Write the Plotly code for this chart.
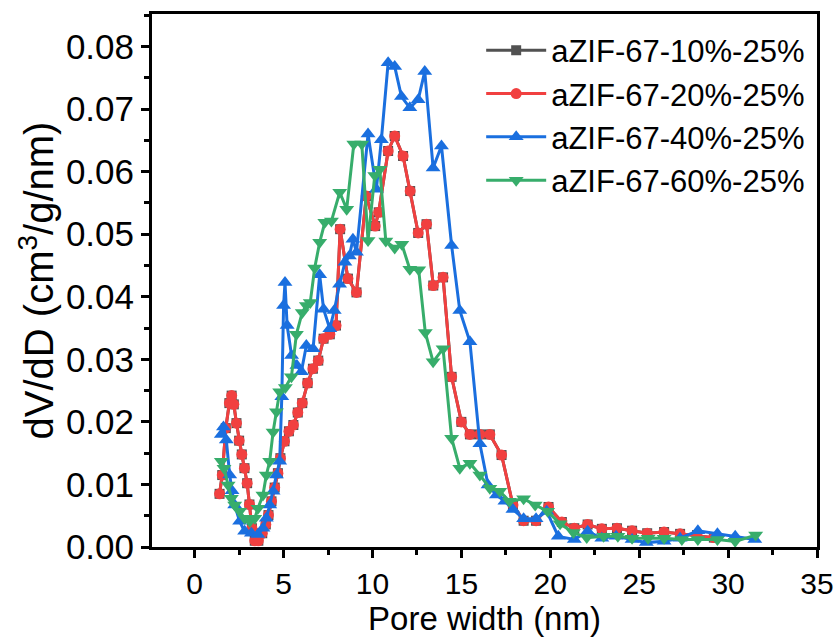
import plotly.graph_objects as go

# ---------------- data ----------------
x_20 = [1.40, 1.55, 1.75, 1.95, 2.08, 2.20, 2.35, 2.50, 2.65, 2.80, 2.95, 3.08, 3.22, 3.38,
        3.58, 3.80, 4.00, 4.15, 4.32, 4.50, 4.68, 4.82, 5.05, 5.30, 5.55, 5.80, 6.05, 6.35,
        6.65, 6.95, 7.25, 7.60, 7.95, 8.18, 8.62, 9.10, 9.65, 10.15, 10.35, 10.88, 11.25,
        11.72, 12.12, 12.57, 13.04, 13.42, 13.97, 14.45, 15.00, 15.48, 16.04, 16.60, 17.26,
        17.90, 18.50, 19.20, 19.90, 20.65, 21.35, 22.10, 22.90, 23.75, 24.60, 25.45, 26.40,
        27.30, 28.25, 29.20]
y_20 = [0.0085, 0.0115, 0.0190, 0.0230, 0.0242, 0.0228, 0.0198, 0.0170, 0.0148, 0.0126,
        0.0102, 0.0068, 0.0030, 0.0010, 0.0010, 0.0022, 0.0036, 0.0051, 0.0073, 0.0095,
        0.0118, 0.0142, 0.0169, 0.0185, 0.0195, 0.0215, 0.0230, 0.0262, 0.0285, 0.0298,
        0.0333, 0.0340, 0.0354, 0.0508, 0.0429, 0.0407, 0.0561, 0.0513, 0.0535, 0.0633,
        0.0657, 0.0625, 0.0569, 0.0502, 0.0516, 0.0418, 0.0431, 0.0272, 0.0200, 0.0180,
        0.0180, 0.0180, 0.0147, 0.0067, 0.0042, 0.0042, 0.0064, 0.0040, 0.0030, 0.0036,
        0.0029, 0.0030, 0.0026, 0.0022, 0.0024, 0.0021, 0.0019, 0.0015]

# the 10% curve lies directly beneath the 20% curve
x_10 = [1.40, 1.55, 1.75, 1.95, 2.08, 2.20, 2.35, 2.50, 2.65, 2.80, 2.95, 3.08, 3.22, 3.38,
        3.58, 3.80, 4.00, 4.15, 4.32, 4.50, 4.68, 4.82, 5.05, 5.30, 5.55, 5.80, 6.05, 6.35,
        6.65, 6.95, 7.25, 7.60, 7.95, 8.18, 8.62, 9.10, 9.65, 10.15, 10.35, 10.88, 11.25,
        11.72, 12.12, 12.57, 13.04, 13.42, 13.97, 14.45, 15.00, 15.48, 16.04, 16.60, 17.26,
        17.90, 18.50, 19.20, 19.90, 20.65, 21.35, 22.10, 22.90, 23.75, 24.60, 25.45, 26.40,
        27.30, 28.25, 29.20]
y_10 = [0.0085, 0.0115, 0.0190, 0.0230, 0.0242, 0.0228, 0.0198, 0.0170, 0.0148, 0.0126,
        0.0102, 0.0068, 0.0030, 0.0010, 0.0010, 0.0022, 0.0036, 0.0051, 0.0073, 0.0095,
        0.0118, 0.0142, 0.0169, 0.0185, 0.0195, 0.0215, 0.0230, 0.0262, 0.0285, 0.0298,
        0.0333, 0.0340, 0.0354, 0.0508, 0.0429, 0.0407, 0.0561, 0.0513, 0.0535, 0.0633,
        0.0657, 0.0625, 0.0569, 0.0502, 0.0516, 0.0418, 0.0431, 0.0272, 0.0200, 0.0180,
        0.0180, 0.0180, 0.0147, 0.0067, 0.0042, 0.0042, 0.0064, 0.0040, 0.0030, 0.0036,
        0.0029, 0.0030, 0.0026, 0.0022, 0.0024, 0.0021, 0.0019, 0.0015]

x_40 = [1.50, 1.62, 1.78, 1.97, 2.10, 2.25, 2.53, 2.81, 3.19, 3.56, 3.84, 4.03, 4.22, 4.41,
        4.60, 4.78, 4.90, 5.00, 5.08, 5.20, 5.45, 5.75, 6.00, 6.28, 6.66, 7.03, 7.25, 7.60,
        7.85, 8.15, 8.45, 8.70, 8.90, 9.10, 9.75, 10.22, 10.50, 10.88, 11.25, 11.63, 12.10,
        12.57, 12.94, 13.41, 13.88, 14.45, 14.91, 15.48, 16.04, 16.50, 16.97, 17.45, 17.90,
        18.50, 19.20, 19.80, 20.45, 21.35, 22.10, 22.90, 23.70, 24.60, 25.40, 26.40, 27.30,
        28.30, 29.40, 30.40, 31.50]
y_40 = [0.0180, 0.0192, 0.0171, 0.0115, 0.0090, 0.0067, 0.0041, 0.0025, 0.0022, 0.0020,
        0.0030, 0.0046, 0.0067, 0.0089, 0.0115, 0.0137, 0.0240, 0.0386, 0.0423, 0.0354,
        0.0306, 0.0290, 0.0280, 0.0322, 0.0317, 0.0435, 0.0380, 0.0349, 0.0378, 0.0420,
        0.0455, 0.0465, 0.0492, 0.0471, 0.0660, 0.0572, 0.0651, 0.0774, 0.0768, 0.0720,
        0.0702, 0.0715, 0.0760, 0.0606, 0.0641, 0.0482, 0.0378, 0.0328, 0.0165, 0.0099,
        0.0083, 0.0073, 0.0060, 0.0045, 0.0045, 0.0057, 0.0017, 0.0012, 0.0025, 0.0014,
        0.0017, 0.0012, 0.0007, 0.0009, 0.0014, 0.0026, 0.0021, 0.0017, 0.0012]

x_60 = [1.50, 1.65, 1.88, 2.06, 2.25, 2.53, 2.81, 3.10, 3.38, 3.56, 3.84, 4.03, 4.22, 4.41,
        4.60, 4.78, 5.10, 5.44, 5.72, 6.05, 6.28, 6.50, 6.75, 7.03, 7.32, 7.69, 8.16, 8.55,
        8.95, 9.40, 9.75, 10.13, 10.41, 10.75, 11.25, 11.65, 12.10, 12.60, 12.97, 13.41,
        13.97, 14.45, 14.91, 15.48, 16.04, 16.60, 17.16, 17.70, 18.50, 19.15, 19.85, 20.55,
        21.30, 22.05, 23.00, 23.80, 24.60, 25.50, 26.40, 27.40, 28.30, 29.40, 30.40, 31.55]
y_60 = [0.0137, 0.0126, 0.0099, 0.0078, 0.0067, 0.0057, 0.0046, 0.0041, 0.0046, 0.0062,
        0.0083, 0.0115, 0.0137, 0.0184, 0.0216, 0.0248, 0.0255, 0.0272, 0.0340, 0.0375,
        0.0386, 0.0391, 0.0446, 0.0487, 0.0519, 0.0521, 0.0567, 0.0540, 0.0644, 0.0644,
        0.0490, 0.0594, 0.0604, 0.0489, 0.0478, 0.0484, 0.0444, 0.0443, 0.0343, 0.0296,
        0.0317, 0.0174, 0.0126, 0.0134, 0.0115, 0.0094, 0.0089, 0.0073, 0.0077, 0.0067,
        0.0057, 0.0037, 0.0023, 0.0015, 0.0017, 0.0017, 0.0014, 0.0014, 0.0014, 0.0012,
        0.0012, 0.0012, 0.0009, 0.0019]

series_names = ["aZIF-67-10%-25%", "aZIF-67-20%-25%", "aZIF-67-40%-25%", "aZIF-67-60%-25%"]
series_colors = ["#515151", "#F14040", "#1A6FDF", "#37AD6B"]
series_symbols = ["square", "circle", "triangle-up", "triangle-down"]
series_sizes = [10, 11, 13, 13]

FONT = "Liberation Sans, Arial, sans-serif"

fig = go.Figure()
for xs, ys, name, col, sym, sz in zip([x_10, x_20, x_40, x_60], [y_10, y_20, y_40, y_60],
                                       series_names, series_colors, series_symbols, series_sizes):
    fig.add_trace(go.Scatter(
        x=xs, y=ys, name=name, mode="lines+markers",
        line=dict(color=col, width=3),
        marker=dict(symbol=sym, size=sz, color=col, line=dict(width=0)),
    ))

axis_common = dict(
    showline=True, linecolor="black", linewidth=3, mirror=True,
    ticks="outside", ticklen=8, tickwidth=3, tickcolor="black",
    showgrid=False, zeroline=False,
)

fig.update_layout(
    width=839, height=639,
    margin=dict(l=152, r=22, t=14, b=92),
    paper_bgcolor="white", plot_bgcolor="white",
    font=dict(family=FONT, color="black"),
    showlegend=True,
    legend=dict(
        x=0.495, y=0.982, xanchor="left", yanchor="top",
        bgcolor="rgba(0,0,0,0)", borderwidth=0,
        font=dict(family=FONT, size=31, color="black"),
        itemwidth=60, tracegroupgap=0,
    ),
    xaxis=dict(
        range=[-2.4, 35], tick0=0, dtick=5, automargin=False,
        tickfont=dict(family=FONT, size=30, color="black"),
        title=dict(text="Pore width (nm)", font=dict(family=FONT, size=33), standoff=2),
        minor=dict(dtick=2.5, ticks="outside", ticklen=5, tickwidth=2.5, tickcolor="black"),
        **axis_common,
    ),
    yaxis=dict(
        range=[0, 0.0852], tick0=0, dtick=0.01, tickformat=".2f", automargin=False,
        tickfont=dict(family=FONT, size=35, color="black"),
        title=dict(text="dV/dD (cm<sup>3</sup>/g/nm)", font=dict(family=FONT, size=40), standoff=0),
        minor=dict(dtick=0.005, ticks="outside", ticklen=5, tickwidth=2.5, tickcolor="black"),
        **axis_common,
    ),
)

fig.write_html("out.html")
